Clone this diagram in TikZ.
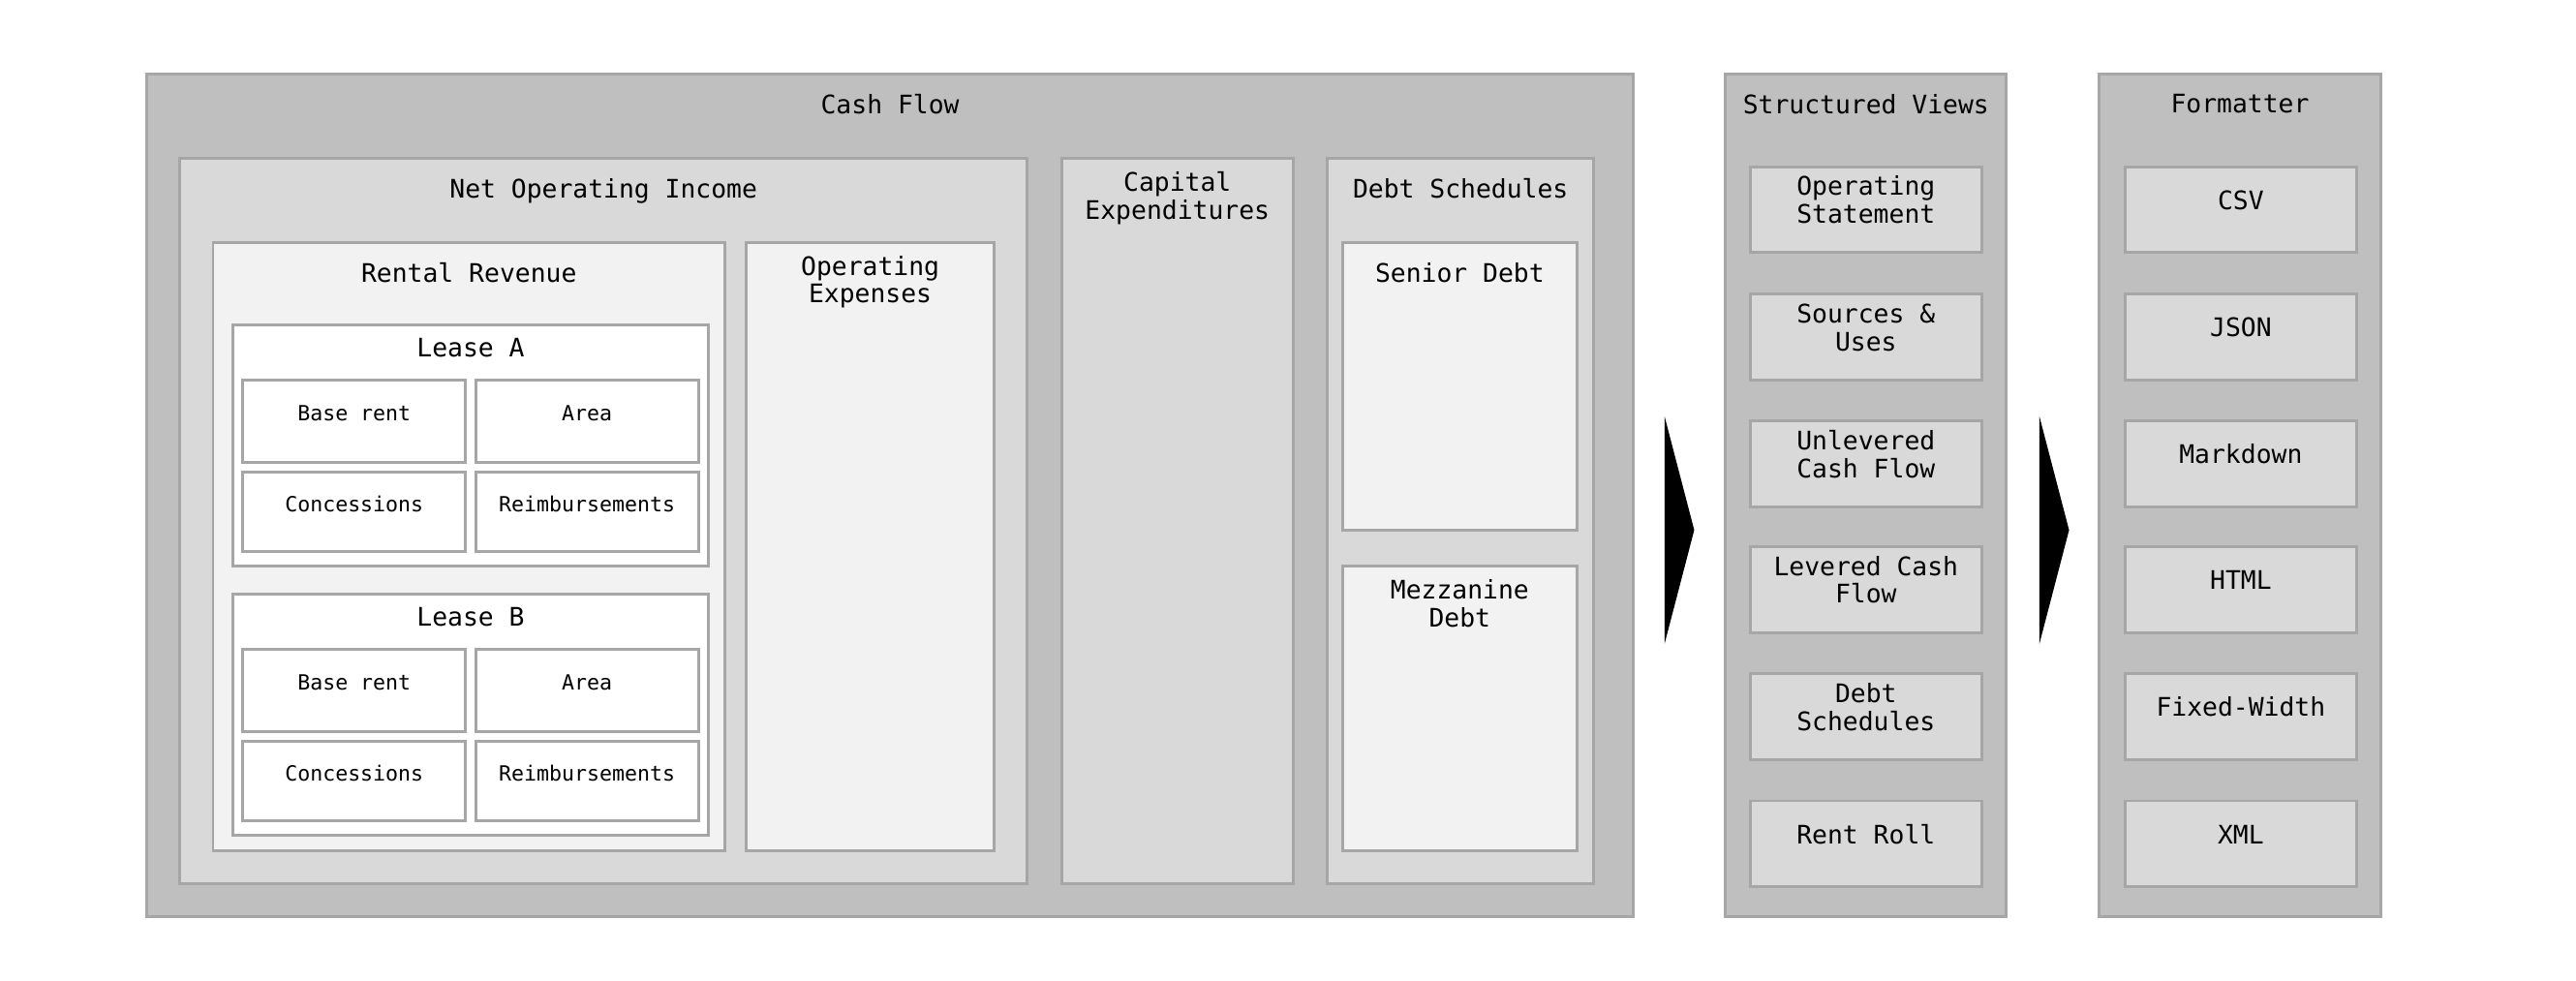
\documentclass[tikz,border=0pt]{standalone}
\usepackage{fontspec}
\setmainfont{DejaVu Sans Mono}
\usetikzlibrary{positioning,fit}
\definecolor{edge}{HTML}{A6A6A6}
\definecolor{dark}{HTML}{BFBFBF}
\definecolor{mid}{HTML}{D9D9D9}
\definecolor{light}{HTML}{F2F2F2}
\tikzset{
  box/.style={draw=edge, line width=1.2pt, inner sep=0pt},
  title/.style={font=\fontsize{11}{12}\selectfont, align=center, inner sep=0pt},
  cell/.style={box, fill=white, font=\fontsize{9}{10}\selectfont},
  item/.style={box, fill=mid, font=\fontsize{11}{12}\selectfont, align=center},
}
\begin{document}
\begin{tikzpicture}[x=0.025cm, y=-0.025cm]
\useasboundingbox (0,0) rectangle (1560,594);

% cash flow
\node[box, fill=dark, fit={(89,45) (989,555)}] (cashflow) {};
\node[title, below=9pt of cashflow.north] {Cash Flow};
\node[box, fill=mid, fit={(109,96) (622,535)}] (noi) {};
\node[title, below=9pt of noi.north] {Net Operating Income};
\node[box, fill=light, fit={(129,147) (439,515)}] (rental) {};
\node[title, below=9pt of rental.north] {Rental Revenue};

% leases
\foreach \n/\y in {A/197, B/360} {
  \node[box, fill=white, fit={(141,\y) (429,\y+146)}] (lease\n) {};
  \node[title, below=6pt of lease\n.north] {Lease \n};
  \node[cell, fit={(147,\y+33) (282,\y+83)}] (base\n) {Base rent};
  \node[cell, fit={(288,\y+33) (423,\y+83)}] (area\n) {Area};
  \node[cell, fit={(147,\y+89) (282,\y+137)}] (conc\n) {Concessions};
  \node[cell, fit={(288,\y+89) (423,\y+137)}] (reimb\n) {Reimbursements};
}

\node[box, fill=light, fit={(452,147) (602,515)}] (opex) {};
\node[title, below=6pt of opex.north] {Operating\\Expenses};
\node[box, fill=mid, fit={(643,96) (783,535)}] (capex) {};
\node[title, below=6pt of capex.north] {Capital\\Expenditures};
\node[box, fill=mid, fit={(804,96) (965,535)}] (debt) {};
\node[title, below=9pt of debt.north] {Debt Schedules};
\node[box, fill=light, fit={(813,147) (955,321)}] (senior) {};
\node[title, below=9pt of senior.north] {Senior Debt};
\node[box, fill=light, fit={(813,343) (955,515)}] (mezz) {};
\node[title, below=6pt of mezz.north] {Mezzanine\\Debt};

% arrows
\fill (1008,252) -- (1026,321) -- (1008,390) -- cycle;
\fill (1235,252) -- (1253,321) -- (1235,390) -- cycle;

% structured views
\node[box, fill=dark, fit={(1045,45) (1215,555)}] (views) {};
\node[title, below=9pt of views.north] {Structured Views};
\foreach \l/\y [count=\i] in {Operating\\Statement/101, Sources \&\\Uses/178,
    Unlevered\\Cash Flow/255, Levered Cash\\Flow/331, Debt\\Schedules/408, Rent Roll/485}
  \node[item, fit={(1060,\y) (1200,\y+52)}] (view-\i) {\l};

% formatter
\node[box, fill=dark, fit={(1271,45) (1442,555)}] (formatter) {};
\node[title, below=9pt of formatter.north] {Formatter};
\foreach \l/\y [count=\i] in {CSV/101, JSON/178, Markdown/255, HTML/331,
    Fixed-Width/408, XML/485}
  \node[item, fit={(1287,\y) (1427,\y+52)}] (fmt-\i) {\l};
\end{tikzpicture}
\end{document}
